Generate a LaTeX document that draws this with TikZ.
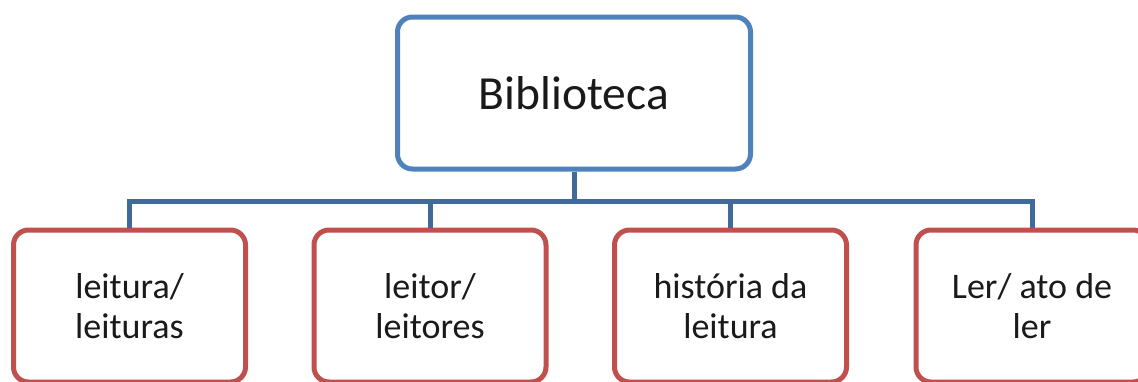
\documentclass[tikz,border=0pt]{standalone}
\usepackage{fontspec}
\setmainfont{Carlito}
\definecolor{topblue}{HTML}{4F81BD}
\definecolor{boxred}{HTML}{C0504D}
\definecolor{connblue}{HTML}{3F6A9A}
\definecolor{txt}{HTML}{1A1A1A}
\begin{document}
\begin{tikzpicture}[x=1pt,y=-1pt,
  topbox/.style={draw=topblue,line width=5pt,rounded corners=15pt,fill=white,
    minimum width=353pt,minimum height=152pt,inner sep=0pt,
    font=\fontsize{47.5}{54}\selectfont,text=txt},
  childbox/.style={draw=boxred,line width=5pt,rounded corners=15pt,fill=white,
    minimum width=232pt,minimum height=152pt,inner sep=0pt,align=center,
    font=\fontsize{36}{40}\selectfont,text=txt},
  conn/.style={draw=connblue,line width=5pt}]
\useasboundingbox (0,0) rectangle (1138,381);
\node[topbox] (top) at (574,93) {Biblioteca};
\node[childbox] (c1) at (129.5,306) {leitura/\\leituras};
\node[childbox] (c2) at (430,306) {leitor/\\leitores};
\node[childbox] (c3) at (730.5,306) {história da\\leitura};
\node[childbox] (c4) at (1032,306) {Ler/ ato de\\ler};
\coordinate (bar) at (574,201);
\draw[conn] (top.south) -- (bar);
\draw[conn] (bar) -| (c1.north);
\draw[conn] (bar) -| (c2.north);
\draw[conn] (bar) -| (c3.north);
\draw[conn] (bar) -| (c4.north);
\end{tikzpicture}
\end{document}
